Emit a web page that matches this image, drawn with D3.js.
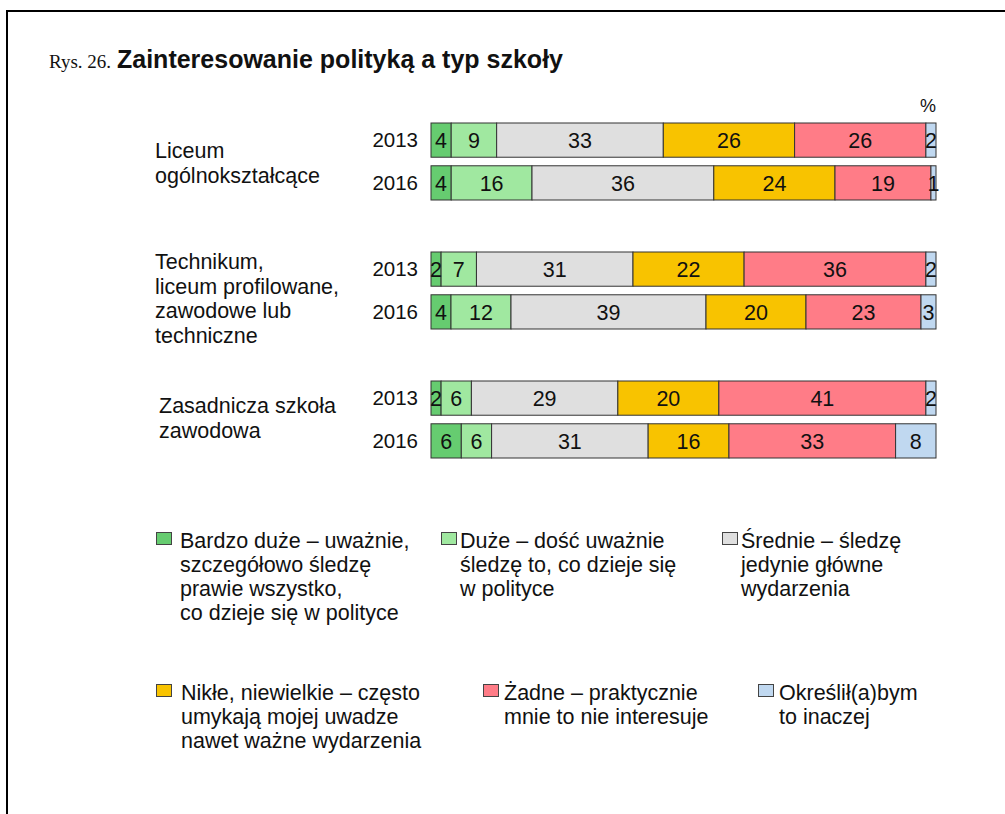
<!DOCTYPE html>
<html>
<head>
<meta charset="utf-8">
<script src="https://cdn.jsdelivr.net/npm/d3@7"></script>
<style>
  body { margin: 0; background: #fff; }
  text { font-family: "Liberation Sans", Arial, sans-serif; fill: #111; }
</style>
</head>
<body>
<div id="chart"></div>
<script>
// data
var groups = ['Liceum ogólnokształcące', 'Technikum, liceum profilowane, zawodowe lub techniczne', 'Zasadnicza szkoła zawodowa'];
var groupLines = [
    ['Liceum', 'ogólnokształcące'],
    ['Technikum,', 'liceum profilowane,', 'zawodowe lub', 'techniczne'],
    ['Zasadnicza szkoła', 'zawodowa']
];
var years = ['2013', '2016'];
var categories = ['Bardzo duże', 'Duże', 'Średnie', 'Nikłe', 'Żadne', 'Inaczej'];
var colors = ['#66cc70', '#a0e8a0', '#dfdfdf', '#f8c300', '#ff7c87', '#c0d8f0'];

var values2013 = [
    [4, 9, 33, 26, 26, 2],
    [2, 7, 31, 22, 36, 2],
    [2, 6, 29, 20, 41, 2]
];
var values2016 = [
    [4, 16, 36, 24, 19, 1],
    [4, 12, 39, 20, 23, 3],
    [6, 6, 31, 16, 33, 8]
];

var legendLabels = [
    ['Bardzo duże – uważnie,', 'szczegółowo śledzę', 'prawie wszystko,', 'co dzieje się w polityce'],
    ['Duże – dość uważnie', 'śledzę to, co dzieje się', 'w polityce'],
    ['Średnie – śledzę', 'jedynie główne', 'wydarzenia'],
    ['Nikłe, niewielkie – często', 'umykają mojej uwadze', 'nawet ważne wydarzenia'],
    ['Żadne – praktycznie', 'mnie to nie interesuje'],
    ['Określił(a)bym', 'to inaczej']
];

var width = 1005, height = 814;

var svg = d3.select('#chart').append('svg')
    .attr('width', width)
    .attr('height', height);

// frame (open on right and bottom)
svg.append('path')
    .attr('d', 'M7,814 V11 H1005')
    .attr('fill', 'none')
    .attr('stroke', '#000')
    .attr('stroke-width', 2);

// title
var title = svg.append('text')
    .attr('x', 49)
    .attr('y', 68);
title.append('tspan')
    .style('font-family', '"Liberation Serif", "Times New Roman", serif')
    .style('font-size', '19px')
    .text('Rys. 26. ');
title.append('tspan')
    .attr('x', 117)
    .style('font-weight', 'bold')
    .style('font-size', '25px')
    .text('Zainteresowanie polityką a typ szkoły');

// rows
var rows = [];
groups.forEach(function (g, gi) {
    years.forEach(function (yr) {
        var vals = yr === '2013' ? values2013[gi] : values2016[gi];
        var total = d3.sum(vals), acc = 0;
        var segs = vals.map(function (v, ci) {
            var s = { cat: ci, value: v, x0: acc / total * 100, x1: (acc + v) / total * 100 };
            acc += v;
            return s;
        });
        rows.push({ group: g, year: yr, segs: segs });
    });
});

var x = d3.scaleLinear().domain([0, 100]).range([431, 936]);

var yGroup = d3.scaleBand()
    .domain(groups)
    .range([123, 510])
    .paddingInner(0);

var yYear = d3.scaleBand()
    .domain(years)
    .range([0, 77])
    .paddingInner(0.2);

var color = d3.scaleOrdinal().domain(d3.range(categories.length)).range(colors);

var rowG = svg.selectAll('.row')
    .data(rows)
    .enter()
    .append('g')
    .attr('class', 'row')
    .attr('transform', d => 'translate(0,' + (yGroup(d.group) + yYear(d.year)) + ')');

rowG.selectAll('rect')
    .data(d => d.segs)
    .enter()
    .append('rect')
    .attr('x', d => x(d.x0))
    .attr('y', 0)
    .attr('width', d => x(d.x1) - x(d.x0))
    .attr('height', yYear.bandwidth())
    .attr('fill', d => color(d.cat))
    .attr('stroke', '#333')
    .attr('stroke-width', 1);

rowG.selectAll('.val')
    .data(d => d.segs)
    .enter()
    .append('text')
    .attr('class', 'val')
    .attr('x', d => (x(d.x0) + x(d.x1)) / 2)
    .attr('y', yYear.bandwidth() / 2 + 8)
    .attr('text-anchor', 'middle')
    .style('font-size', '21.5px')
    .text(d => d.value);

rowG.append('text')
    .attr('x', 418)
    .attr('y', yYear.bandwidth() / 2 + 7)
    .attr('text-anchor', 'end')
    .style('font-size', '20.5px')
    .text(d => d.year);

// percent sign
svg.append('text')
    .attr('x', x(100))
    .attr('y', 112)
    .attr('text-anchor', 'end')
    .style('font-size', '18px')
    .text('%');

// group labels
var labelPos = [{ x: 155, y: 158 }, { x: 155, y: 269 }, { x: 159, y: 413 }];
groupLines.forEach(function (lines, gi) {
    var t = svg.append('text')
        .attr('x', labelPos[gi].x)
        .attr('y', labelPos[gi].y)
        .style('font-size', '21.5px');
    lines.forEach(function (l, li) {
        t.append('tspan')
            .attr('x', labelPos[gi].x)
            .attr('dy', li === 0 ? 0 : 24.5)
            .text(l);
    });
});

// legend
var legendPos = [
    { bx: 156, tx: 180, y: 540 }, { bx: 441, tx: 460, y: 540 }, { bx: 722, tx: 741, y: 540 },
    { bx: 156, tx: 181, y: 692 }, { bx: 483, tx: 504, y: 692 }, { bx: 758, tx: 779, y: 692 }
];
legendLabels.forEach(function (lines, i) {
    var p = legendPos[i];
    svg.append('rect')
        .attr('x', p.bx + 0.5)
        .attr('y', p.y - 7.5)
        .attr('width', 15)
        .attr('height', 12)
        .attr('fill', colors[i])
        .attr('stroke', '#444')
        .attr('stroke-width', 1);
    var t = svg.append('text')
        .attr('x', p.tx)
        .attr('y', p.y + 7.5)
        .style('font-size', '21.5px');
    lines.forEach(function (l, li) {
        t.append('tspan')
            .attr('x', p.tx)
            .attr('dy', li === 0 ? 0 : 24.3)
            .text(l);
    });
});
</script>
</body>
</html>
